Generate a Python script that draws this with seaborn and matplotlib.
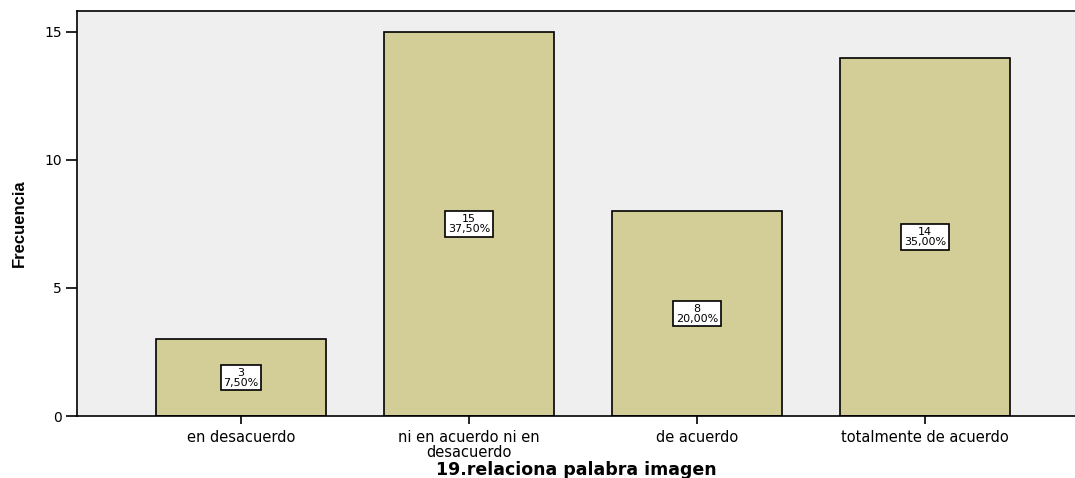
import matplotlib
matplotlib.use("Agg")
import matplotlib.pyplot as plt
import seaborn as sns
import pandas as pd

categories = ["en desacuerdo", "ni en acuerdo ni en\ndesacuerdo", "de acuerdo", "totalmente de acuerdo"]
counts = [3, 15, 8, 14]
percents = ["7,50%", "37,50%", "20,00%", "35,00%"]
yticks = [0, 5, 10, 15]

sns.set_style("white")
plt.rcParams['font.family'] = ['DejaVu Sans']
plt.rcParams['text.color'] = 'black'
plt.rcParams['axes.labelcolor'] = 'black'
plt.rcParams['xtick.color'] = 'black'
plt.rcParams['ytick.color'] = 'black'

df = pd.DataFrame({"cat": categories, "n": counts})

fig = plt.figure(figsize=(10.75, 4.78), dpi=100)
ax = fig.add_axes([77/1075, 1-416/478, 998/1075, 405/478])
ax.set_facecolor("#EFEFEF")

sns.barplot(data=df, x="cat", y="n", color="#D3CE98", saturation=1, width=0.746,
            edgecolor="black", linewidth=1.2, ax=ax)

for i, (c, p) in enumerate(zip(counts, percents)):
    ax.text(i, c / 2, f"{c}\n{p}", ha="center", va="center", fontsize=8,
            linespacing=1.0, color="black",
            bbox=dict(boxstyle="square,pad=0.25", facecolor="white", edgecolor="black", linewidth=1.2))

ax.set_xlim(-0.719, 3.658)
ax.set_ylim(0, 15.82)
ax.set_yticks(yticks)
ax.set_yticklabels([str(t) for t in yticks], fontsize=10)
ax.tick_params(axis="y", left=True, direction="out", length=8, width=1.2, color="black", pad=3)
ax.tick_params(axis="x", bottom=True, direction="out", length=6, width=1.2, color="black", labelsize=10.5, pad=4)
for lbl in ax.get_xticklabels():
    lbl.set_linespacing(1.0)

for s in ["left", "bottom", "top"]:
    ax.spines[s].set_visible(True)
    ax.spines[s].set_color("black")
    ax.spines[s].set_linewidth(1.2)
ax.spines["right"].set_visible(False)

ax.set_xlabel("19.relaciona palabra imagen", fontsize=12.5, fontweight="bold")
ax.xaxis.set_label_coords(0.5, -0.11)
ax.set_ylabel("Frecuencia", fontsize=12, fontweight="bold",
              family=["Liberation Sans Narrow", "Liberation Sans", "DejaVu Sans"])
ax.yaxis.set_label_coords(-0.05, 0.475)

fig.savefig("out.png", dpi=100, facecolor="white")
